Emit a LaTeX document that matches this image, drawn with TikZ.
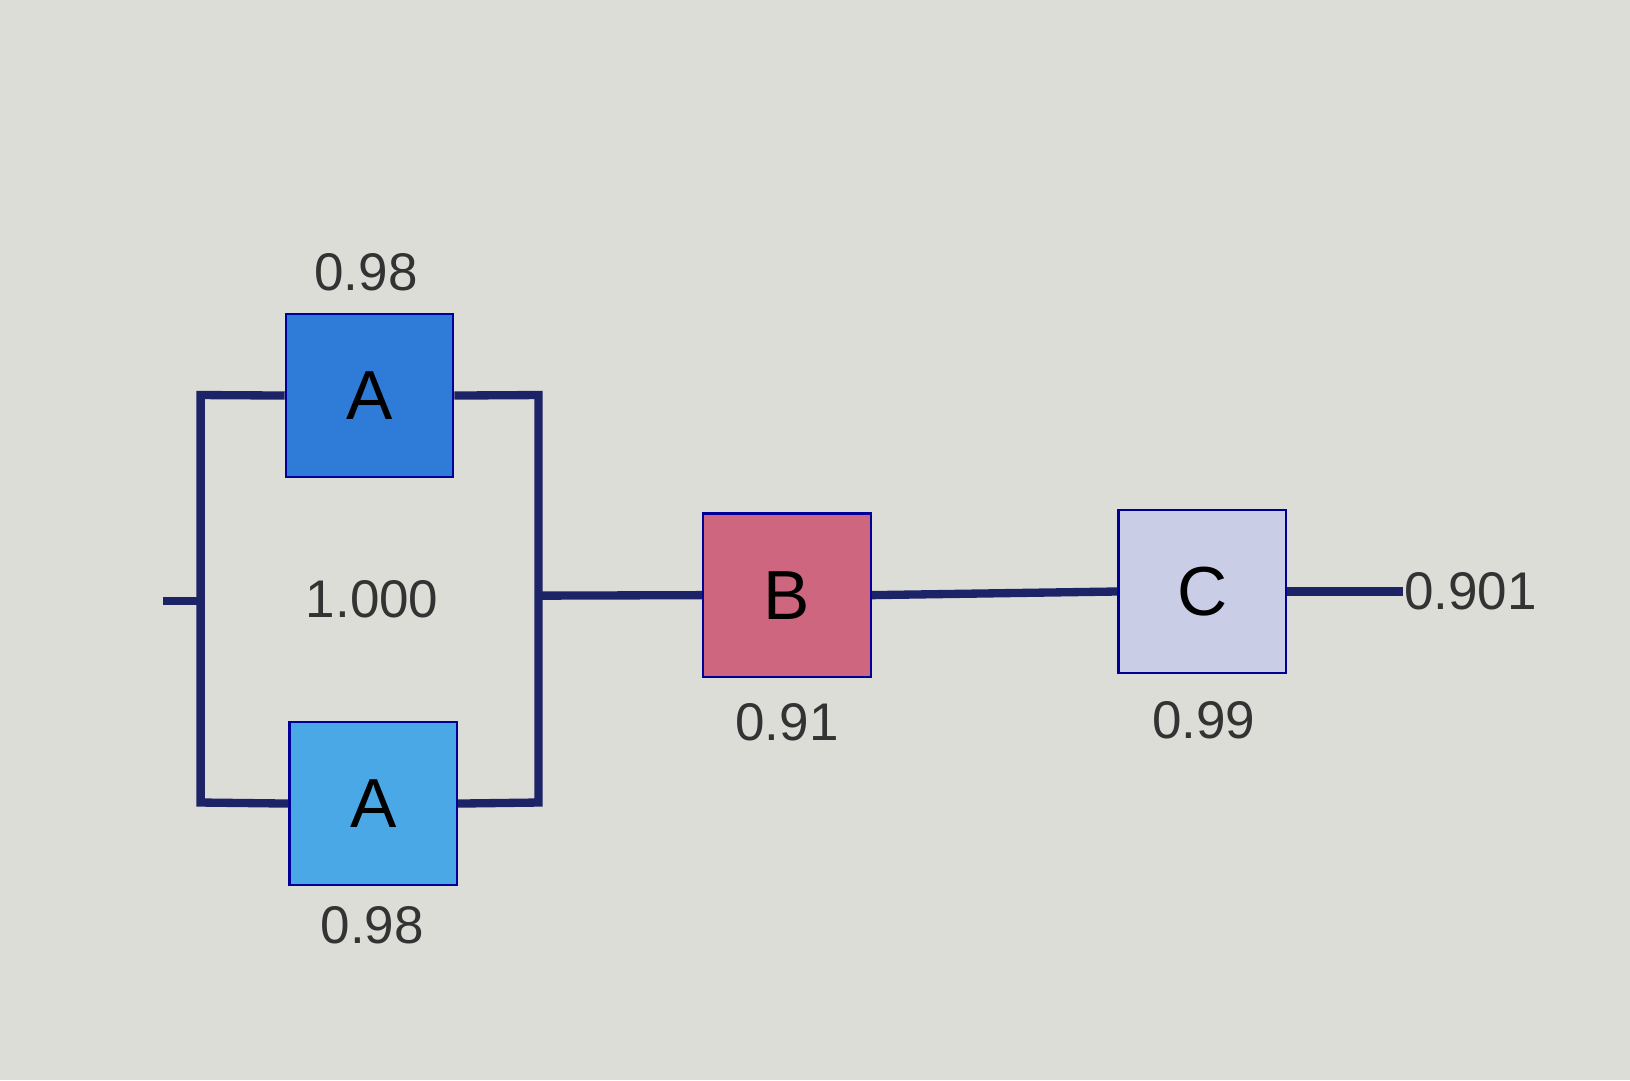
\documentclass[tikz,border=0pt]{standalone}
\usepackage{fontspec}
\setmainfont{Liberation Sans}
\begin{document}
\begin{tikzpicture}[x=0.01cm,y=-0.01cm,
  wire/.style={draw=wirec,line width=0.08cm},
  blk/.style={draw=blue!60!black,line width=0.6pt,minimum width=1.61cm,minimum height=1.57cm,inner sep=0pt,font=\fontsize{19}{23}\selectfont},
  lbl/.style={font=\fontsize{14.5}{17}\selectfont,text=black!80}]
\definecolor{wirec}{HTML}{1C2366}
\definecolor{bg}{HTML}{DDDDD8}
\definecolor{ca}{HTML}{2F7BD8}
\definecolor{cb}{HTML}{4AA8E6}
\definecolor{cB}{HTML}{CF6680}
\definecolor{cC}{HTML}{C9CDE6}
\fill[bg] (0,0) rectangle (1568,1039);
\useasboundingbox (0,0) rectangle (1568,1039);
\coordinate (in) at (157,578);
\coordinate (lj) at (193,578);
\coordinate (tl) at (193,380);
\coordinate (bl) at (193,772);
\coordinate (tr) at (518,380);
\coordinate (br) at (518,772);
\coordinate (rj) at (518,573);
\coordinate (out) at (1350,569);
\node[blk,fill=ca] (A1) at (355.5,380.5) {A};
\node[blk,fill=cb] (A2) at (359,773) {A};
\node[blk,fill=cB] (B) at (757,572.5) {B};
\node[blk,fill=cC] (C) at (1156.5,569) {C};
\draw[wire] (in) -- (lj);
\draw[wire] (A1.west) -- (tl) -- (bl) -- (A2.west);
\draw[wire] (A1.east) -- (tr) -- (br) -- (A2.east);
\draw[wire] (rj) -- (B.west);
\draw[wire] (B.east) -- (C.west);
\draw[wire] (C.east) -- (out);
\node[lbl] (l1) at (352,262) {0.98};
\node[lbl] (l2) at (358,890) {0.98};
\node[lbl] (l3) at (358,576) {1.000};
\node[lbl] (l4) at (757,695) {0.91};
\node[lbl] (l5) at (1158,693) {0.99};
\node[lbl,anchor=west,inner sep=0pt] (l6) at (out) {0.901};
\end{tikzpicture}
\end{document}
